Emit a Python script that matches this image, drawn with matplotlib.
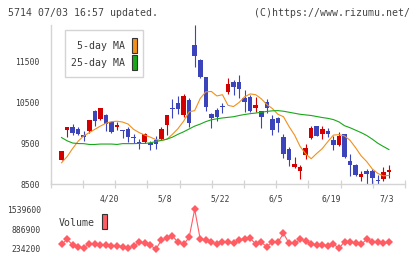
import matplotlib
matplotlib.use("Agg")
import matplotlib.pyplot as plt
from matplotlib.patches import Rectangle
import numpy as np

# daily candles (60 trading days, last = 07/03)
opens = [9100, 9827, 9893, 9837, 9697, 9802, 10286, 10090, 10188, 10023,
         9886, 9827, 9861, 9655, 9525, 9525, 9500, 9574, 9606, 9942,
         10353, 10490, 10188, 10556, 11908, 11539, 11114, 10205, 10311, 10392,
         10760, 10999, 10999, 10598, 10623, 10367, 10286, 10507, 10090, 10114,
         9655, 9353, 8918, 8819, 9205, 9640, 9918, 9738, 9795, 9574,
         9451, 9721, 9058, 8959, 8672, 8812, 8812, 8591, 8623, 8787]
highs = [9300, 9893, 9967, 9886, 9795, 10065, 10311, 10367, 10205, 10030,
         10009, 9830, 9886, 9738, 9598, 9753, 9566, 9672, 9886, 10188,
         10581, 10655, 10704, 10613, 12399, 11563, 11129, 10245, 10367, 10475,
         11090, 11048, 11171, 10802, 10680, 10623, 10294, 10581, 10188, 10146,
         9721, 9409, 9163, 8959, 9475, 9918, 9918, 9918, 9876, 9672,
         9770, 9738, 9247, 9001, 8812, 8861, 8861, 8714, 8918, 8959]
lows = [9100, 9655, 9697, 9697, 9557, 9763, 9918, 10070, 9795, 9760,
        9820, 9640, 9532, 9507, 9360, 9500, 9335, 9353, 9574, 9697,
        10120, 10205, 10146, 9900, 11375, 11105, 10294, 9876, 10048, 10230,
        10704, 10680, 10598, 10269, 10269, 10269, 9876, 10230, 9697, 9778,
        9149, 8935, 8893, 8615, 9124, 9615, 9672, 9598, 9655, 9345,
        9426, 9149, 8706, 8689, 8566, 8490, 8490, 8493, 8574, 8647]
closes = [9300, 9893, 9753, 9738, 9655, 10065, 10048, 10353, 9960, 9778,
          9950, 9795, 9655, 9630, 9483, 9729, 9468, 9475, 9851, 10188,
          10330, 10335, 10655, 10008, 11645, 11129, 10377, 10122, 10146, 10380,
          10942, 10883, 10834, 10515, 10294, 10434, 10146, 10367, 9820, 9999,
          9247, 9082, 8984, 8910, 9385, 9876, 9672, 9844, 9721, 9451,
          9672, 9163, 8959, 8714, 8738, 8746, 8647, 8583, 8787, 8836]

ma5 = [9020, 9170, 9370, 9550, 9680, 9760, 9840, 9920, 9990, 10030,
       10040, 10020, 9970, 9840, 9760, 9700, 9650, 9590, 9570, 9600,
       9720, 9860, 10040, 10270, 10300, 10600, 10760, 10770, 10660, 10690,
       10430, 10400, 10500, 10640, 10710, 10690, 10590, 10450, 10350, 10210,
       10150, 9910, 9700, 9420, 9240, 9120, 9250, 9370, 9540, 9700,
       9710, 9680, 9570, 9390, 9190, 9050, 8870, 8760, 8700, 8710]
ma25 = [9640, 9560, 9505, 9492, 9490, 9470, 9470, 9480, 9480, 9480,
        9470, 9490, 9490, 9490, 9495, 9495, 9510, 9540, 9570, 9600,
        9650, 9720, 9780, 9850, 9920, 9970, 10030, 10075, 10100, 10120,
        10135, 10150, 10180, 10205, 10225, 10240, 10260, 10280, 10295, 10300,
        10285, 10260, 10235, 10210, 10195, 10180, 10155, 10130, 10110, 10080,
        10023, 9930, 9880, 9820, 9760, 9690, 9600, 9500, 9420, 9345]

volume = [388000, 552000, 366000, 289000, 278000, 399000, 399000, 366000, 366000, 333000,
          344000, 311000, 256000, 333000, 453000, 421000, 366000, 223000, 530000, 585000,
          662000, 453000, 388000, 618000, 1539600, 552000, 530000, 453000, 399000, 453000,
          453000, 421000, 519000, 552000, 585000, 399000, 453000, 311000, 475000, 453000,
          749000, 421000, 421000, 552000, 508000, 388000, 366000, 366000, 344000, 399000,
          256000, 475000, 475000, 421000, 388000, 552000, 453000, 475000, 421000, 453000]

date_idx = [9, 19, 29, 39, 49, 59]
date_labels = ['4/20', '5/8', '5/22', '6/5', '6/19', '7/3']
price_ticks = [8500, 9500, 10500, 11500]
vol_ticks = [234200, 886900, 1539600]

UP = '#d40000'
DOWN = '#3c44bc'
ORANGE = '#f39019'
GREEN = '#18a818'
VOLC = '#ff5c64'
GRID = '#d4d4d4'
TXT = '#3a3a3a'
W, H = 420, 259

plt.rcParams['font.family'] = ['DejaVu Sans Mono']

fig = plt.figure(figsize=(W / 100, H / 100), dpi=100)
fig.patch.set_facecolor('white')

def frac(x0, y0, x1, y1):
    return [x0 / W, 1 - y1 / H, (x1 - x0) / W, (y1 - y0) / H]

ax = fig.add_axes(frac(50.7, 25, 405, 184))
n = len(closes)
x = np.arange(n)
o = np.array(opens); c = np.array(closes)
hi = np.array(highs); lo = np.array(lows)
col = np.where(c >= o, UP, DOWN)

ax.vlines(x, lo, hi, colors=col, linewidth=0.8, zorder=2)
body_bot = np.minimum(o, c)
body_h = np.maximum(np.abs(c - o), 25)
ax.bar(x, body_h, bottom=body_bot, width=0.82, color=col, linewidth=0, zorder=3)
ax.plot(x, ma5, color=ORANGE, lw=0.8, zorder=4)
ax.plot(x, ma25, color=GREEN, lw=0.8, zorder=4)

xmin, xmax = -1.95, 61.9
ax.set_xlim(xmin, xmax)
ax.set_ylim(8500, 12400)
ax.set_xticks(np.linspace(xmin, xmax, 12))
ax.set_xticklabels([])
ax.tick_params(axis='x', direction='inout', length=6, width=0.9, color=GRID)
ax.set_yticks(price_ticks)
ax.set_yticklabels([str(v) for v in price_ticks], fontsize=5.8, color=TXT)
ax.tick_params(axis='y', length=0, pad=8)
for s in ['top', 'right']:
    ax.spines[s].set_visible(False)
for s in ['left', 'bottom']:
    ax.spines[s].set_color(GRID)
    ax.spines[s].set_linewidth(1.0)

for i, lab in zip(date_idx, date_labels):
    ax.annotate(lab, xy=(i, 0), xycoords=('data', 'axes fraction'),
                xytext=(-2.5, -14.5), textcoords='offset pixels',
                ha='center', va='center', fontsize=5.8, color=TXT)

# volume panel
vax = fig.add_axes(frac(50.7, 205, 405, 252))
vax.plot(x, volume, color=VOLC, lw=0.8, marker='D', markersize=3.8,
         markeredgewidth=0, zorder=3)
vax.set_xlim(xmin, xmax)
vax.set_ylim(135550, 1681000)
vax.set_xticks([])
vax.set_yticks(vol_ticks)
vax.set_yticklabels([str(v) for v in vol_ticks], fontsize=5.8, color=TXT)
vax.tick_params(axis='y', length=0, pad=7)
for s in vax.spines.values():
    s.set_visible(False)

# overlay for header and legends (pixel coords)
ov = fig.add_axes([0, 0, 1, 1], zorder=10)
ov.set_xlim(0, W); ov.set_ylim(H, 0); ov.axis('off')
ov.text(8, 12.5, '5714 07/03 16:57 updated.', fontsize=7.1, color='#444444',
        ha='left', va='center')
ov.text(410, 12.5, '(C)https://www.rizumu.net/', fontsize=7.1, color='#444444',
        ha='right', va='center')

ov.add_patch(Rectangle((65, 30), 78, 47.3, facecolor='white', edgecolor=GRID, lw=1.0))
ov.text(125, 46, '5-day MA', fontsize=7.1, color=TXT, ha='right', va='center')
ov.text(125, 63.3, '25-day MA', fontsize=7.1, color=TXT, ha='right', va='center')
ov.add_patch(Rectangle((131.7, 37.5), 5.6, 15, facecolor=ORANGE, edgecolor='#333333', lw=0.8))
ov.add_patch(Rectangle((131.7, 54.8), 5.6, 15, facecolor=GREEN, edgecolor='#333333', lw=0.8))

ov.text(58.5, 222.5, 'Volume', fontsize=7.1, color=TXT, ha='left', va='center')
ov.add_patch(Rectangle((101.7, 213.5), 5.6, 15, facecolor=VOLC, edgecolor='#333333', lw=0.8))

fig.savefig('out.png', dpi=100, facecolor='white')
